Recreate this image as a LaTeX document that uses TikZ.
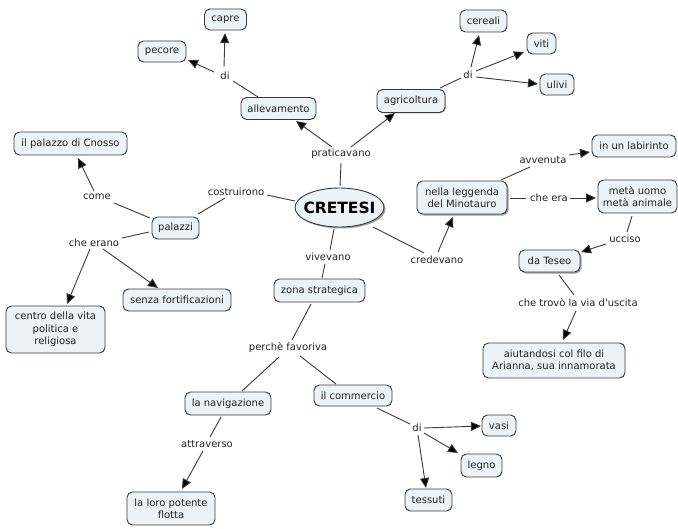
\documentclass[tikz,border=0pt]{standalone}
\usepackage{fontspec}
\setmainfont{DejaVu Sans}[Ligatures=TeXOff]
\usetikzlibrary{arrows.meta,shadows,shapes.geometric,calc}
\definecolor{boxfill}{HTML}{EBF3F7}
\definecolor{edge}{HTML}{3A3A3A}
\definecolor{ink}{HTML}{222222}
\tikzset{
  boxn/.style={draw=edge,line width=0.9pt,rounded corners=5.5pt,fill=boxfill,text=ink,font=\fontsize{10}{12.4}\selectfont,align=center,inner sep=0pt},
  shad/.style={drop shadow={shadow xshift=1.5pt,shadow yshift=-1.5pt,fill=gray!75,opacity=1}},
  shadl/.style={drop shadow={shadow xshift=0.8pt,shadow yshift=-0.8pt,fill=gray!60,opacity=1}},
  lab/.style={font=\fontsize{10}{12}\selectfont,text=ink,inner sep=2pt},
  plain/.style={draw=edge,line width=0.9pt},
  arr/.style={draw=edge,line width=0.9pt,-{Triangle[length=10pt,width=9pt,fill=black]}},
}
\newcommand{\bx}[7][]{\node[boxn,#1,minimum width=#5pt,minimum height=#6pt] (#2) at (#3,#4) {#7};}
\newcommand{\lb}[4]{\node[lab] (#1) at (#2,#3) {#4};}
\newcommand{\lnk}[5]{\draw[#1] ($(#2)+(#3)$) -- ($(#4)+(#5)$);}
\begin{document}
\begin{tikzpicture}[x=1pt,y=-1pt]
\useasboundingbox (0,0) rectangle (678,528);
\bx{capre}{225.5}{19.5}{42}{21}{capre}
\bx{pecore}{162}{51.5}{48}{21}{pecore}
\bx{allev}{278.5}{108.5}{75}{22}{allevamento}
\bx[shadl]{agri}{411}{101}{68}{23}{agricoltura}
\bx{cereali}{483.5}{21}{47}{22}{cereali}
\bx{viti}{541.5}{43.5}{29}{21}{viti}
\bx{ulivi}{557}{84.5}{34}{21}{ulivi}
\bx{palazzo}{70.5}{143.5}{113}{23}{il palazzo di Cnosso}
\bx{palazzi}{175.5}{228}{47}{22}{palazzi}
\bx{centro}{55.5}{329.5}{99}{47}{centro della vita\\politica e\\religiosa}
\bx{senza}{177}{300}{108}{22}{senza fortificazioni}
\node[ellipse,draw=edge,line width=0.9pt,fill=boxfill,text=black,minimum width=89pt,minimum height=39pt,inner sep=0pt,font=\fontsize{15.5}{18}\selectfont\bfseries,shad] (cretesi) at (339.5,207.5) {\makebox[0pt][c]{CRETESI}};
\bx[shad]{nella}{462}{197.5}{90}{33}{nella leggenda\\del Minotauro}
\bx{labirinto}{634}{146}{84}{22}{in un labirinto}
\bx{meta}{637.5}{196.5}{79}{33}{metà uomo\\metà animale}
\bx[shad]{teseo}{549.5}{261}{61}{22}{da Teseo}
\bx{aiuta}{554}{360.5}{142}{35}{aiutandosi col filo di\\Arianna, sua innamorata}
\bx{zona}{319.5}{290.5}{91}{23}{zona strategica}
\bx{navi}{228}{403.5}{86}{23}{la navigazione}
\bx{comm}{353}{395.5}{78}{21}{il commercio}
\bx{vasi}{499}{425.5}{34}{21}{vasi}
\bx{legno}{481.5}{465.5}{41}{23}{legno}
\bx{tessuti}{428.5}{500}{47}{22}{tessuti}
\bx{flotta}{171}{508.5}{88}{33}{la loro potente\\flotta}
\lb{ldi}{225}{76}{di}
\lb{rdi}{468}{75}{di}
\lb{prat}{341}{154}{praticavano}
\lb{cost}{236}{192}{costruirono}
\lb{come}{97}{197}{come}
\lb{cheer}{94}{243}{che erano}
\lb{avv}{543}{160}{avvenuta}
\lb{chee}{549}{198}{che era}
\lb{ucc}{625}{239}{ucciso}
\lb{trovo}{578}{303}{che trovò la via d'uscita}
\lb{viv}{328}{257}{vivevano}
\lb{cred}{437}{260}{credevano}
\lb{perc}{288}{348}{perchè favoriva}
\lb{attr}{207}{444}{attraverso}
\lb{bdi}{417}{428}{di}
\lnk{plain}{allev}{-20.5,-11.5}{ldi}{8,5}
\lnk{arr}{ldi}{-1,-9}{capre}{-0.5,13.5}
\lnk{arr}{ldi}{-11,-4}{pecore}{26,8.5}
\lnk{plain}{agri}{29,-13}{rdi}{-7,3}
\lnk{arr}{rdi}{3,-8}{cereali}{-4.5,14}
\lnk{arr}{rdi}{8,-4}{viti}{-17.5,8.5}
\lnk{arr}{rdi}{8,2}{ulivi}{-19,-0.5}
\lnk{arr}{prat}{-9,-7}{allev}{17.5,12.5}
\lnk{arr}{prat}{10,-7}{agri}{-16,12}
\lnk{plain}{cretesi}{0.5,-21.5}{prat}{0,9}
\lnk{plain}{cretesi}{-44.5,-6.5}{cost}{31,3}
\lnk{plain}{cost}{-11,6}{palazzi}{22.5,-14}
\lnk{plain}{palazzi}{-25.5,-10}{come}{17,6}
\lnk{arr}{come}{-3,-6}{palazzo}{7.5,14.5}
\lnk{plain}{palazzi}{-26.5,4}{cheer}{28,-5}
\lnk{arr}{cheer}{-4,6}{centro}{11.5,-25.5}
\lnk{arr}{cheer}{9,6}{senza}{-19,-12}
\lnk{plain}{cretesi}{33.5,19.5}{cred}{-13,-7}
\lnk{arr}{cred}{1,-8}{nella}{-9,19.5}
\lnk{plain}{nella}{39,-17.5}{avv}{-13,7}
\lnk{arr}{avv}{26,-5}{labirinto}{-44,6}
\lnk{plain}{nella}{48,0.5}{chee}{-23,0}
\lnk{arr}{chee}{21,0}{meta}{-41.5,1.5}
\lnk{plain}{meta}{-5.5,19.5}{ucc}{2,-7}
\lnk{arr}{ucc}{-19,5}{teseo}{31.5,-9}
\lnk{plain}{teseo}{9.5,14}{trovo}{-4,-8}
\lnk{arr}{trovo}{-2,8}{aiuta}{9,-20.5}
\lnk{plain}{cretesi}{-5.5,21.5}{viv}{2,-7}
\lnk{plain}{viv}{-3,7}{zona}{2.5,-12.5}
\lnk{plain}{zona}{-8.5,13.5}{perc}{4,-8}
\lnk{plain}{perc}{-9,9}{navi}{14,-12.5}
\lnk{plain}{perc}{12,8}{comm}{-17,-11.5}
\lnk{plain}{navi}{-7,13.5}{attr}{3,-7}
\lnk{arr}{attr}{-4,7}{flotta}{11,-19.5}
\lnk{plain}{comm}{24,12.5}{bdi}{-7,-4}
\lnk{arr}{bdi}{7,0}{vasi}{-18,0.5}
\lnk{arr}{bdi}{7,5}{legno}{-23.5,-12.5}
\lnk{arr}{bdi}{1,7}{tessuti}{-2.5,-12}
\end{tikzpicture}
\end{document}
